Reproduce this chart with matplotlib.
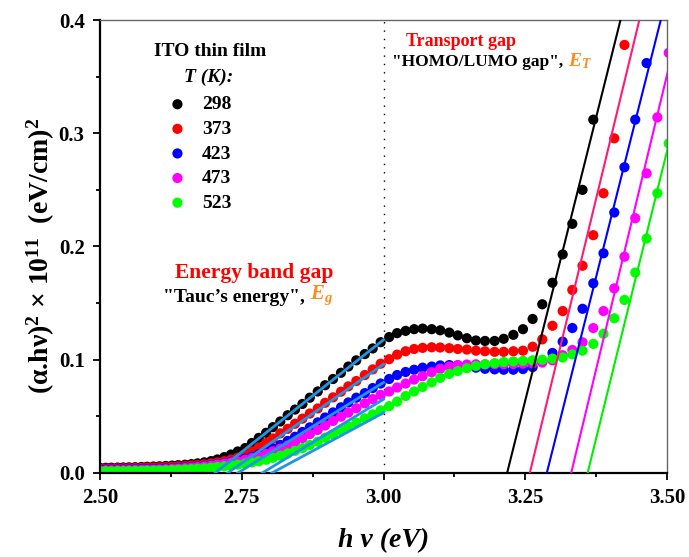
import matplotlib
matplotlib.use("Agg")
import matplotlib.pyplot as plt
import numpy as np
from matplotlib.ticker import MultipleLocator, FormatStrFormatter

plt.rcParams['font.family'] = 'Liberation Serif'
plt.rcParams['font.weight'] = 'bold'
plt.rcParams['axes.labelweight'] = 'bold'
plt.rcParams['mathtext.fontset'] = 'custom'
plt.rcParams['mathtext.rm'] = 'Liberation Serif:bold'
plt.rcParams['mathtext.it'] = 'Liberation Serif:bold:italic'
plt.rcParams['mathtext.bf'] = 'Liberation Serif:bold'

# photon energy of every measured point (eV)
energy = [2.500, 2.510, 2.520, 2.531, 2.541, 2.551, 2.562, 2.573, 2.583, 2.594,
          2.605, 2.616, 2.627, 2.638, 2.650, 2.661, 2.672, 2.684, 2.696, 2.707,
          2.719, 2.731, 2.743, 2.756, 2.768, 2.780, 2.793, 2.805, 2.818, 2.831,
          2.844, 2.857, 2.870, 2.884, 2.897, 2.911, 2.925, 2.938, 2.952, 2.967,
          2.981, 2.995, 3.010, 3.024, 3.039, 3.054, 3.069, 3.085, 3.100, 3.116,
          3.131, 3.147, 3.163, 3.179, 3.196, 3.212, 3.229, 3.246, 3.263, 3.280,
          3.298, 3.316, 3.333, 3.351, 3.370, 3.388, 3.407, 3.425, 3.444, 3.464,
          3.483, 3.503]

# (alpha*h*nu)^2 in units of 1e11 (eV/cm)^2
t298 = [0.0045, 0.0046, 0.0047, 0.0048, 0.0049, 0.0050, 0.0051, 0.0053, 0.0055, 0.0057,
        0.0059, 0.0062, 0.0065, 0.0069, 0.0073, 0.0078, 0.0085, 0.0094, 0.0105, 0.0120,
        0.0140, 0.0163, 0.0190, 0.0220, 0.0265, 0.0310, 0.0355, 0.0405, 0.0455, 0.0510,
        0.0560, 0.0610, 0.0665, 0.0720, 0.0775, 0.0830, 0.0885, 0.0940, 0.0995, 0.1050,
        0.1100, 0.1155, 0.1200, 0.1235, 0.1255, 0.1270, 0.1275, 0.1270, 0.1260, 0.1240,
        0.1215, 0.1190, 0.1170, 0.1166, 0.1166, 0.1185, 0.1220, 0.1270, 0.1360, 0.1490,
        0.1680, 0.1930, 0.2200, 0.2500, 0.3120]
t373 = [0.0038, 0.0039, 0.0040, 0.0041, 0.0042, 0.0043, 0.0044, 0.0045, 0.0047, 0.0049,
        0.0051, 0.0053, 0.0056, 0.0059, 0.0062, 0.0066, 0.0071, 0.0077, 0.0084, 0.0093,
        0.0104, 0.0118, 0.0135, 0.0160, 0.0190, 0.0225, 0.0265, 0.0305, 0.0350, 0.0390,
        0.0435, 0.0480, 0.0525, 0.0570, 0.0620, 0.0668, 0.0718, 0.0765, 0.0812, 0.0865,
        0.0915, 0.0965, 0.1005, 0.1045, 0.1075, 0.1095, 0.1105, 0.1110, 0.1108, 0.1102,
        0.1095, 0.1090, 0.1080, 0.1075, 0.1070, 0.1070, 0.1075, 0.1080, 0.1115, 0.1180,
        0.1300, 0.1430, 0.1616, 0.1830, 0.2100, 0.2470, 0.2955, 0.3780]
t423 = [0.0030, 0.0030, 0.0030, 0.0031, 0.0031, 0.0032, 0.0033, 0.0034, 0.0035, 0.0036,
        0.0038, 0.0040, 0.0042, 0.0045, 0.0049, 0.0053, 0.0058, 0.0064, 0.0071, 0.0079,
        0.0088, 0.0099, 0.0112, 0.0127, 0.0145, 0.0166, 0.0190, 0.0218, 0.0248, 0.0283,
        0.0320, 0.0362, 0.0403, 0.0447, 0.0490, 0.0535, 0.0580, 0.0623, 0.0665, 0.0705,
        0.0750, 0.0790, 0.0830, 0.0865, 0.0892, 0.0912, 0.0930, 0.0940, 0.0950, 0.0953,
        0.0950, 0.0940, 0.0930, 0.0920, 0.0915, 0.0912, 0.0912, 0.0918, 0.0935, 0.0985,
        0.1060, 0.1160, 0.1280, 0.1450, 0.1675, 0.1940, 0.2300, 0.2700, 0.3120, 0.3620]
t473 = [0.0024, 0.0024, 0.0024, 0.0025, 0.0025, 0.0026, 0.0027, 0.0028, 0.0029, 0.0030,
        0.0032, 0.0034, 0.0037, 0.0040, 0.0044, 0.0048, 0.0053, 0.0059, 0.0066, 0.0074,
        0.0083, 0.0093, 0.0104, 0.0117, 0.0132, 0.0149, 0.0168, 0.0191, 0.0215, 0.0242,
        0.0273, 0.0308, 0.0343, 0.0380, 0.0420, 0.0460, 0.0497, 0.0533, 0.0572, 0.0615,
        0.0653, 0.0690, 0.0720, 0.0755, 0.0790, 0.0825, 0.0855, 0.0890, 0.0920, 0.0940,
        0.0953, 0.0958, 0.0960, 0.0960, 0.0960, 0.0960, 0.0962, 0.0965, 0.0968, 0.0975,
        0.0995, 0.1040, 0.1086, 0.1154, 0.1280, 0.1430, 0.1630, 0.1910, 0.2250, 0.2646,
        0.3140, 0.3710]
t523 = [0.0015, 0.0015, 0.0015, 0.0016, 0.0016, 0.0017, 0.0018, 0.0019, 0.0020, 0.0021,
        0.0022, 0.0024, 0.0026, 0.0028, 0.0031, 0.0034, 0.0038, 0.0042, 0.0047, 0.0053,
        0.0059, 0.0066, 0.0074, 0.0083, 0.0093, 0.0104, 0.0117, 0.0134, 0.0153, 0.0173,
        0.0196, 0.0220, 0.0248, 0.0277, 0.0312, 0.0342, 0.0377, 0.0410, 0.0445, 0.0483,
        0.0518, 0.0553, 0.0590, 0.0630, 0.0680, 0.0720, 0.0760, 0.0800, 0.0840, 0.0875,
        0.0900, 0.0925, 0.0945, 0.0960, 0.0970, 0.0980, 0.0985, 0.0990, 0.0995, 0.1000,
        0.1010, 0.1020, 0.1048, 0.1080, 0.1140, 0.1230, 0.1366, 0.1528, 0.1770, 0.2070,
        0.2470, 0.2910]

temps = ['298', '373', '423', '473', '523']
series = [t298, t373, t423, t473, t523]
dot_colors = ['#000000', '#ff0000', '#0000ff', '#ff00ff', '#00ff00']

# linear fits: Tauc edge (energy band gap) and HOMO/LUMO edge (transport gap)
tauc_onset = [2.703, 2.725, 2.743, 2.786, 2.803]
tauc_slope = [0.396, 0.349, 0.311, 0.304, 0.270]
trans_onset = [3.218, 3.258, 3.288, 3.331, 3.360]
trans_slope = [2.00, 2.07, 1.99, 2.08, 2.03]
trans_colors = ['#000000', '#ff1a75', '#0000ff', '#ff00ff', '#00ee00']

W, H = 689, 557
fig = plt.figure(figsize=(W / 100, H / 100), dpi=100)
ax = fig.add_axes([100 / W, 1 - 473 / H, 567 / W, 453 / H])

handles = []
for vals, col, lab in zip(series, dot_colors, temps):
    h = ax.scatter(energy[:len(vals)], vals, s=54, color=col, edgecolors='none',
                   label=lab, zorder=2)
    handles.append(h)

for e0, k in zip(tauc_onset, tauc_slope):
    xs = np.array([e0, 3.0])
    ax.plot(xs, k * (xs - e0), color='#1e96e6', lw=2.0, zorder=3)

for e0, k, col in zip(trans_onset, trans_slope, trans_colors):
    xs = np.array([e0, 3.6])
    ax.plot(xs, k * (xs - e0), color=col, lw=1.5, zorder=3)

ax.axvline(3.0, color='k', lw=1, ls=(0, (1, 5)), zorder=1)

ax.set_xlim(2.5, 3.5)
ax.set_ylim(0, 0.4)
ax.xaxis.set_major_locator(MultipleLocator(0.25))
ax.xaxis.set_minor_locator(MultipleLocator(0.125))
ax.yaxis.set_major_locator(MultipleLocator(0.1))
ax.yaxis.set_minor_locator(MultipleLocator(0.05))
ax.xaxis.set_major_formatter(FormatStrFormatter('%.2f'))
ax.yaxis.set_major_formatter(FormatStrFormatter('%.1f'))
ax.tick_params(which='both', direction='out', top=False, right=False, width=1.3)
ax.tick_params(which='major', length=5, labelsize=15, pad=6)
ax.tick_params(which='minor', length=3)
for s in ['left', 'bottom']:
    ax.spines[s].set_linewidth(1.6)
for s in ['top', 'right']:
    ax.spines[s].set_linewidth(1.0)
    ax.spines[s].set_color('#666666')

ax.set_xlabel('h ν (eV)', fontsize=20, fontstyle='italic', fontweight='bold',
              labelpad=14)
ax.set_ylabel(r'(α.hν)$^{2}$ × 10$^{11}$  (eV/cm)$^{2}$', fontsize=20,
              fontweight='bold')
ax.yaxis.set_label_coords(-0.076, 0.48)

def px(x, y):
    return x / W, 1 - y / H

fig.text(*px(154, 52), 'ITO thin film', fontsize=14, va='center', ha='left')
fig.text(*px(184, 77), 'T (K):', fontsize=14, fontstyle='italic', va='center', ha='left')
fig.legend(handles=handles, labels=temps, loc='upper left',
           bbox_to_anchor=px(158, 86), frameon=False, fontsize=14,
           handlelength=1.0, handletextpad=0.75, labelspacing=0.36, borderpad=0)

fig.text(*px(406, 42), 'Transport gap', color='#ff0000', fontsize=13,
         va='center', ha='left')
t1 = fig.text(*px(392, 62), '"HOMO/LUMO gap", ', color='black', fontsize=12.5,
              va='center', ha='left')
ax.annotate(r'$E_T$', xy=(1, -0.05), xycoords=t1, va='bottom', ha='left',
            color='#ff8c1a', fontsize=14)

fig.text(*px(175, 273), 'Energy band gap', color='#ff0000', fontsize=15.5,
         va='center', ha='left')
t2 = fig.text(*px(163, 298), '"Tauc’s energy", ', color='black', fontsize=14,
              va='center', ha='left')
ax.annotate(r'$E_g$', xy=(1, -0.05), xycoords=t2, va='bottom', ha='left',
            color='#ff8c1a', fontsize=15)

fig.savefig('out.png', dpi=100)
